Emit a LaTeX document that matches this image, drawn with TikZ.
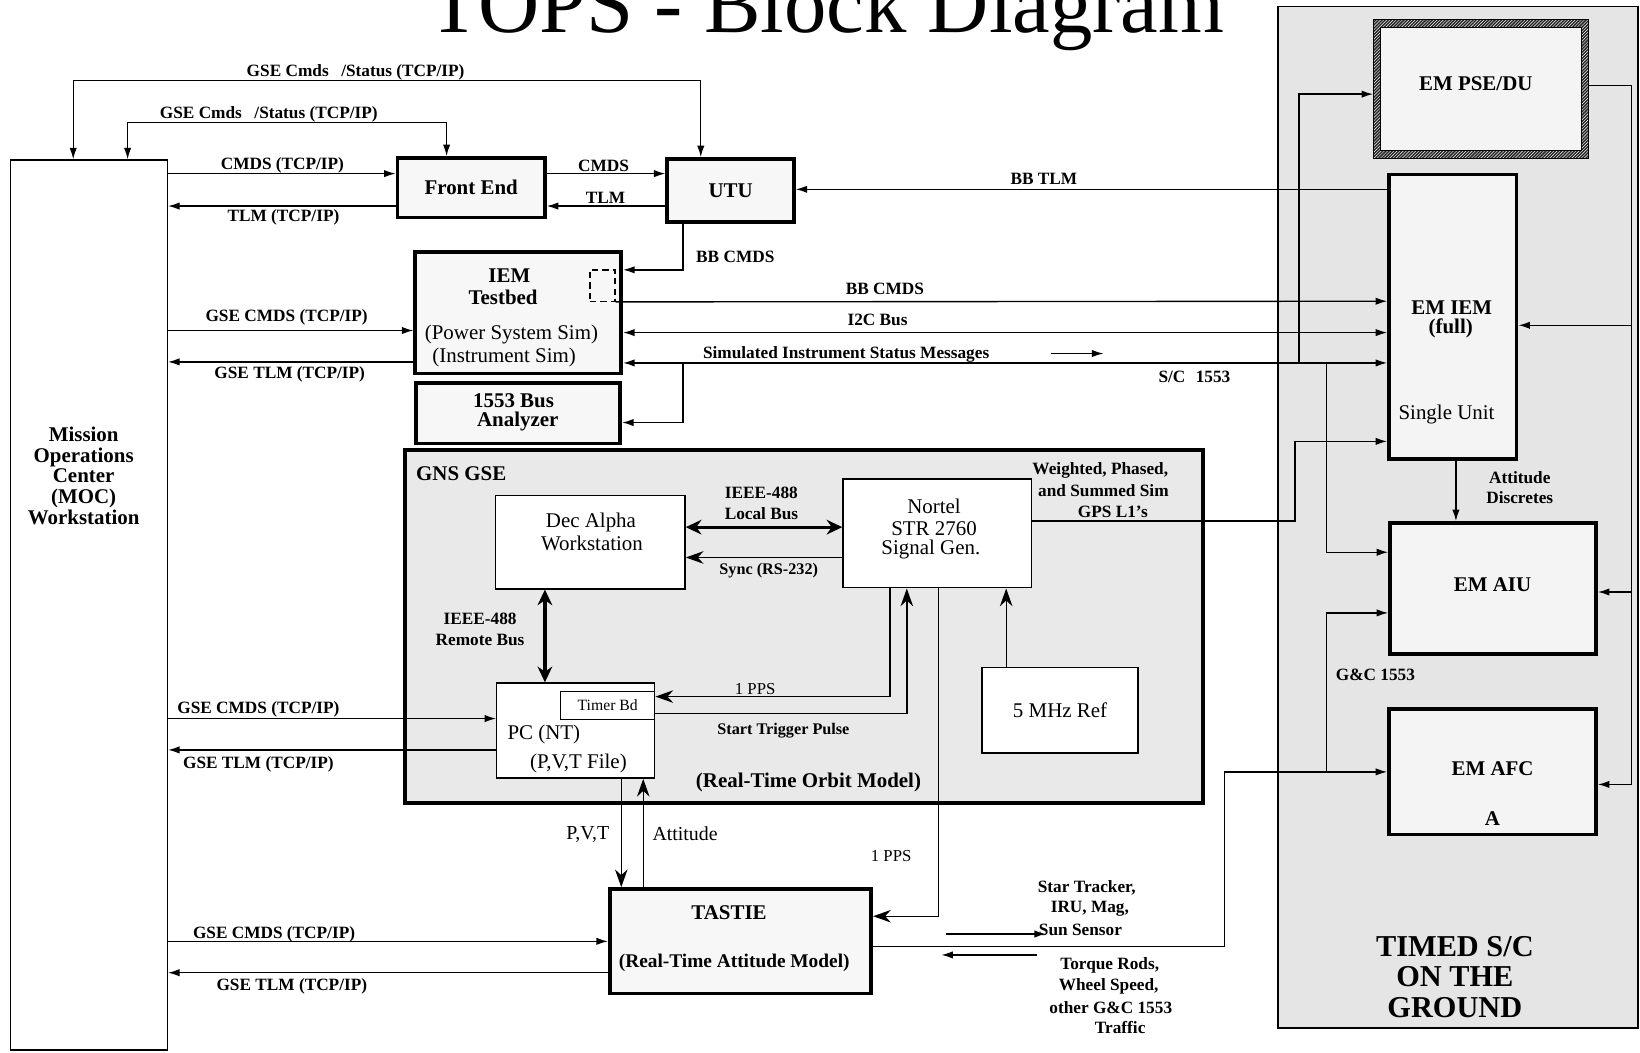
\documentclass[tikz,border=0pt]{standalone}
\usepackage{fontspec}
\setmainfont{Liberation Serif}
\usetikzlibrary{arrows.meta,patterns,calc}
\newcommand\Fsz[1]{\fontsize{#1}{#1}\selectfont}
\begin{document}
\begin{tikzpicture}[x=1pt,y=-1pt,
  >={Latex[length=11pt,width=7pt]},
  ln/.style={line width=1.3pt},
  bigarr/.style={line width=1.3pt,-{Stealth[length=17pt,width=12pt]}},
  thk/.style={draw, line width=3.5pt, fill=gray!6, inner sep=0},
  emb/.style={draw, line width=3.5pt, fill=gray!9, inner sep=0},
  tn/.style={draw, line width=1.3pt, fill=white, inner sep=0},
  lb/.style={font=\Fsz{16.5}\bfseries, inner sep=0},
  sm/.style={font=\Fsz{16}, inner sep=0},
  rg/.style={font=\Fsz{20}, inner sep=0},
  bd/.style={font=\Fsz{20}\bfseries, inner sep=0},
  big/.style={font=\Fsz{29}\bfseries, inner sep=0}]
\path[use as bounding box] (0,0) rectangle (1568,1006);
\clip (0,0) rectangle (1568,1006);
\fill[white] (0,0) rectangle (1568,1006);

% title
\node[font=\Fsz{81}, inner sep=0, anchor=base] (title) at (790,31) {TOPS - Block Diagram};

% right panel
\node[draw, line width=1.3pt, fill=gray!20, minimum width=344pt, minimum height=977pt, inner sep=0] (panel) at (1394,494.5) {};
% GNS GSE
\node[draw, line width=3.5pt, fill=gray!17, minimum width=763pt, minimum height=338pt, inner sep=0] (gns) at (768.5,599) {};

% boxes
\node[draw, line width=1.3pt, fill=white, minimum width=150pt, minimum height=851pt, inner sep=0] (moc) at (85,578.5) {};
\node[thk, minimum width=141pt, minimum height=57pt, font=\Fsz{20}\bfseries] (fe) at (450.5,179.5) {Front End};
\node[thk, minimum width=121pt, minimum height=60pt, font=\Fsz{20}\bfseries] (utu) at (698.5,182) {UTU};
\node[thk, minimum width=197pt, minimum height=116pt] (iem) at (495.5,299) {};
\node[draw, dashed, line width=1.3pt, dash pattern=on 6pt off 4pt, minimum width=24pt, minimum height=30pt, inner sep=0] (dbox) at (576,273) {};
\node[thk, minimum width=195pt, minimum height=58pt] (bus) at (495.5,395) {};
\node[tn, minimum width=181pt, minimum height=89pt] (dec) at (564.5,518.5) {};
\node[tn, minimum width=180pt, minimum height=104pt] (nortel) at (896,510) {};
\node[tn, minimum width=151pt, minimum height=91pt] (pc) at (550.5,698.5) {};
\node[tn, minimum width=90pt, minimum height=27pt, font=\Fsz{15}] (timer) at (581,674.5) {Timer Bd};
\node[tn, minimum width=149pt, minimum height=82pt, font=\Fsz{20}] (mhz) at (1013.5,679) {5 MHz Ref};
\node[thk, minimum width=250pt, minimum height=100pt] (tastie) at (708,900) {};

% EM PSE/DU hatched
\fill[gray!9] (1316,22) rectangle (1516,148);
\fill[black!85, even odd rule] (1313,19) rectangle (1519,151) (1320,26) rectangle (1512,144);
\fill[pattern=north east lines, pattern color=white, even odd rule] (1313,19) rectangle (1519,151) (1320,26) rectangle (1512,144);
\draw[line width=0.8pt] (1313,19) rectangle (1519,151) (1320,26) rectangle (1512,144);
\node[inner sep=0, minimum width=206pt, minimum height=132pt] (pse) at (1416,85) {};
\node[emb, minimum width=122pt, minimum height=272pt] (emiem) at (1389,303) {};
\node[emb, minimum width=197pt, minimum height=125pt] (aiu) at (1427.5,562.5) {};
\node[emb, minimum width=198pt, minimum height=120pt] (afc) at (1427,738) {};

% junction coordinates
\coordinate (j1) at (653,347);
\coordinate (j2) at (1242,347);
\coordinate (j3) at (1268,347);
\coordinate (j4) at (1268,738);
\coordinate (rb) at (1560,311);
\coordinate (ra) at (1560,566);
\coordinate (s1) at (904,893);
\coordinate (s2) at (1000,893);
\coordinate (q1) at (991,913);
\coordinate (q2) at (900,913);
\coordinate (m1) at (1005,338);
\coordinate (m2) at (1055,338);

% top loops
\draw[ln,<->] (moc.north -| 70,0) |- (670,77) -- (utu.north -| 670,0);
\draw[ln,<->] (moc.north -| 122,0) |- (427,117) -- (fe.north -| 427,0);

% MOC - Front End - UTU
\draw[ln,->] (moc.east |- 0,166) -- (fe.west |- 0,166);
\draw[ln,->] (fe.west |- 0,197) -- (moc.east |- 0,197);
\draw[ln,->] (fe.east |- 0,166) -- (utu.west |- 0,166);
\draw[ln,->] (utu.west |- 0,197) -- (fe.east |- 0,197);
\draw[ln,->] (emiem.west |- 0,181) -- (utu.east |- 0,181);
\draw[ln,->] (utu.south -| 653,0) |- (iem.east |- 0,258);

% IEM testbed
\draw[ln,->] (moc.east |- 0,316) -- (iem.west |- 0,316);
\draw[ln,->] (iem.west |- 0,346) -- (moc.east |- 0,346);
\draw[ln,->] (dbox.south east) -- (emiem.west |- 0,288);
\draw[ln,<->] (iem.east |- 0,318) -- (emiem.west |- 0,318);
\draw[ln,<->] (iem.east |- 0,347) -- (emiem.west |- 0,347);
\draw[ln,->] (j1) |- (bus.east |- 0,404);
\draw[ln,->] (m1) -- (m2);

% panel wiring
\draw[ln,->] (j2) |- (pse.west |- 0,90);
\draw[ln,->] (j3) |- (aiu.west |- 0,528);
\draw[ln,->] (nortel.east |- 0,498) -| (1238,422) -- (emiem.west |- 0,422);
\draw[ln,->] (pse.east |- 0,82) -| (1560,750) -- (afc.east |- 0,750);
\draw[ln,->] (rb) -- (emiem.east |- 0,311);
\draw[ln,->] (ra) -- (aiu.east |- 0,566);
\draw[ln,->] (emiem.south -| 1392,0) -- (aiu.north -| 1392,0);
\draw[ln,->] (tastie.east |- 0,905) -| (1171,738) -- (afc.west |- 0,738);
\draw[ln,->] (j4) |- (aiu.west |- 0,586);

% GNS internal
\draw[line width=3pt,{Stealth[length=15pt,width=14pt]}-{Stealth[length=15pt,width=14pt]}] (dec.east |- 0,504) -- (nortel.west |- 0,504);
\draw[bigarr] (nortel.west |- 0,533) -- (dec.east |- 0,533);
\draw[line width=3pt,{Stealth[length=15pt,width=14pt]}-{Stealth[length=15pt,width=14pt]}] (dec.south -| 521,0) -- (pc.north -| 521,0);
\draw[bigarr] (nortel.south -| 851,0) |- (timer.east |- 0,666);
\draw[bigarr] (timer.east |- 0,682) -| (nortel.south -| 867,0);
\draw[bigarr] (mhz.north -| 962,0) -- (nortel.south -| 962,0);

% PC and TASTIE
\draw[ln,->] (moc.east |- 0,687) -- (pc.west |- 0,687);
\draw[ln,->] (pc.west |- 0,717) -- (moc.east |- 0,717);
\draw[bigarr] (pc.south -| 594,0) -- (tastie.north -| 594,0);
\draw[bigarr] (tastie.north -| 615,0) -- (pc.south -| 615,0);
\draw[bigarr] (nortel.south -| 897,0) |- (tastie.east |- 0,876);
\draw[ln,->] (moc.east |- 0,900) -- (tastie.west |- 0,900);
\draw[ln,->] (tastie.west |- 0,930) -- (moc.east |- 0,930);
\draw[ln,->] (s1) -- (s2);
\draw[ln,->] (q1) -- (q2);

% texts
\node[lb] (tl1) at (340,69) {GSE Cmds\hspace{12pt}/Status (TCP/IP)};
\node[lb] (tl2) at (257,109) {GSE Cmds\hspace{12pt}/Status (TCP/IP)};
\node[lb] (tl3) at (270,158) {CMDS (TCP/IP)};
\node[lb] (tl4) at (271,208) {TLM (TCP/IP)};
\node[lb] (tl5) at (577,159) {CMDS};
\node[lb] (tl6) at (579,189) {TLM};
\node[lb] (tl7) at (998,171) {BB TLM};
\node[lb] (tl8) at (703,246) {BB CMDS};
\node[bd, align=center] (mocT) at (80,455) {Mission\\[0pt]Operations\\Center\\(MOC)\\Workstation};
\node[bd] (iem1) at (487,264) {IEM};
\node[bd] (iem2) at (481,284) {Testbed};
\node[rg] (iem3) at (489,320) {(Power System Sim)};
\node[rg] (iem4) at (482,342) {(Instrument Sim)};
\node[lb] (tl9) at (274,303) {GSE CMDS (TCP/IP)};
\node[lb] (tl10) at (277,358) {GSE TLM (TCP/IP)};
\node[lb] (tl11) at (846,276) {BB CMDS};
\node[lb] (tl12) at (839,306) {I2C Bus};
\node[lb] (tl13) at (809,339) {Simulated Instrument Status Messages};
\node[lb] (tl14) at (1142,360) {S/C\hspace{10pt}1553};
\node[bd] (bus1) at (491,383) {1553 Bus};
\node[bd] (bus2) at (495,403) {Analyzer};
\node[bd] (gnsT) at (441,453) {GNS GSE};
\node[rg] (dec1) at (565,500) {Dec Alpha};
\node[rg] (dec2) at (566,520) {Workstation};
\node[lb] (tl15) at (728,471) {IEEE-488};
\node[lb] (tl16) at (728,491) {Local Bus};
\node[font=\Fsz{15.5}\bfseries, inner sep=0] (tl17) at (735,546) {Sync (RS-232)};
\node[rg] (nt1) at (893,484) {Nortel};
\node[rg] (nt2) at (893,505) {STR 2760};
\node[rg] (nt3) at (890,525) {Signal Gen.};
\node[lb] (gp1) at (1052,450) {Weighted, Phased,};
\node[lb] (gp2) at (1055,469) {and Summed Sim};
\node[lb] (gp3) at (1064,489) {GPS L1's};
\node[lb] (tl18) at (459,592) {IEEE-488};
\node[lb] (tl19) at (459,612) {Remote Bus};
\node[rg] (pc1) at (520,702) {PC (NT)};
\node[rg] (pc2) at (553,730) {(P,V,T File)};
\node[sm] (tl20) at (722,659) {1 PPS};
\node[font=\Fsz{15.5}\bfseries, inner sep=0] (tl21) at (749,699) {Start Trigger Pulse};
\node[bd] (tl22) at (773,748) {(Real-Time Orbit\hspace{5pt}Model)};
\node[lb] (tl23) at (247,678) {GSE CMDS (TCP/IP)};
\node[lb] (tl24) at (247,731) {GSE TLM (TCP/IP)};
\node[font=\Fsz{19}, inner sep=0] (tl25) at (562,798) {P,V,T};
\node[font=\Fsz{19}, inner sep=0] (tl26) at (655,797) {Attitude};
\node[sm] (tl27) at (852,818) {1 PPS};
\node[bd] (ts1) at (697,873) {TASTIE};
\node[font=\Fsz{18.5}\bfseries, inner sep=0] (ts2) at (702,921) {(Real-Time Attitude Model)};
\node[lb] (tl28) at (262,893) {GSE CMDS (TCP/IP)};
\node[lb] (tl29) at (279,943) {GSE TLM (TCP/IP)};
\node[lb] (st1) at (1039,849) {Star Tracker,};
\node[lb] (st2) at (1042,869) {IRU, Mag,};
\node[lb] (st3) at (1033,889) {Sun Sensor};
\node[lb] (tq1) at (1061,923) {Torque Rods,};
\node[lb] (tq2) at (1060,943) {Wheel Speed,};
\node[lb] (tq3) at (1062,963) {other G\&C 1553};
\node[lb] (tq4) at (1071,982) {Traffic};
\node[lb] (ad1) at (1453,457) {Attitude};
\node[lb] (ad2) at (1453,476) {Discretes};
\node[lb] (gc) at (1315,645) {G\&C 1553};
\node[bd] (pseT) at (1411,80) {EM PSE/DU};
\node[bd] (em1) at (1388,294) {EM IEM};
\node[bd] (em2) at (1387,314) {(full)};
\node[rg] (em3) at (1383,396) {Single Unit};
\node[bd] (aiuT) at (1427,559) {EM AIU};
\node[bd] (afc1) at (1427,735) {EM AFC};
\node[bd] (afc2) at (1427,783) {A};
\node[big] (tm1) at (1391,905) {TIMED S/C};
\node[big] (tm2) at (1391,934) {ON THE};
\node[big] (tm3) at (1391,963) {GROUND};
\end{tikzpicture}
\end{document}
